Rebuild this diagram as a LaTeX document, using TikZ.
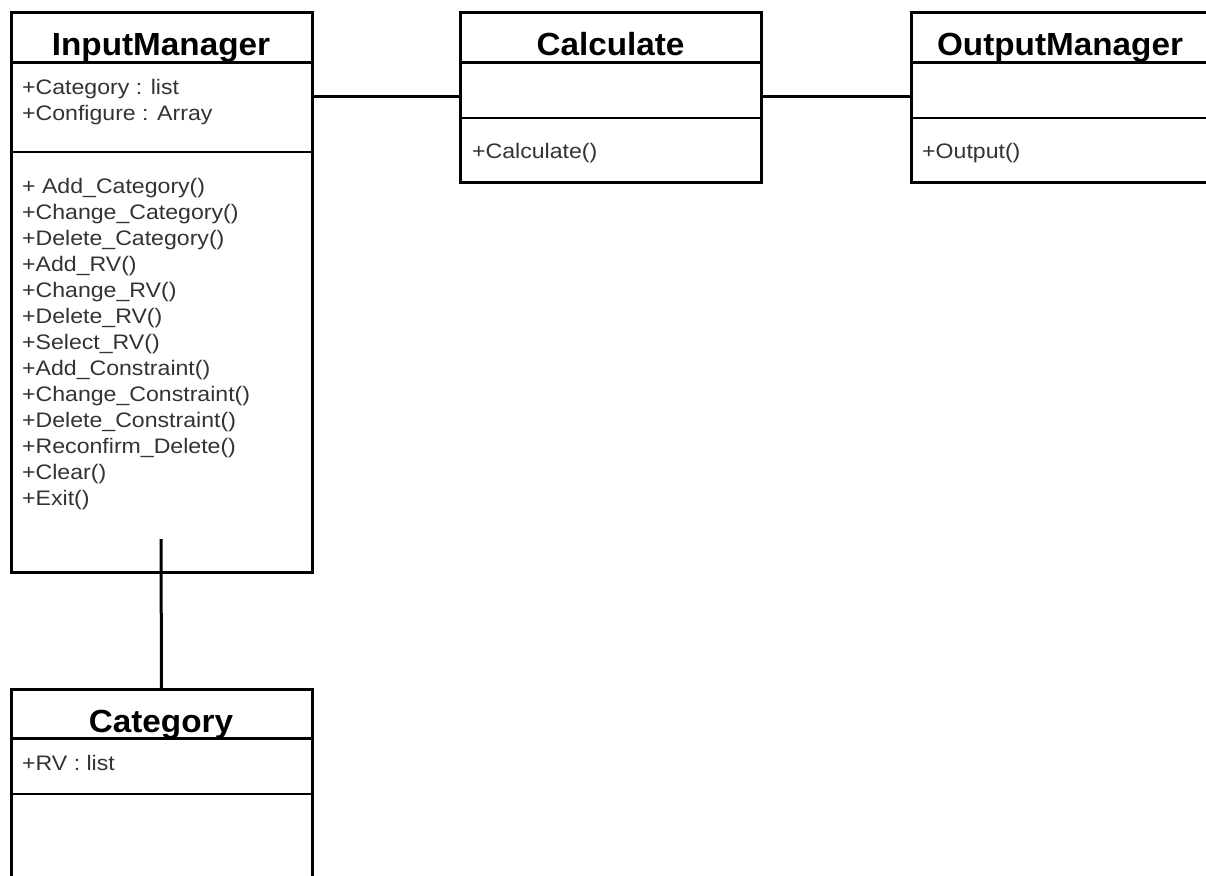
\documentclass[tikz,border=0pt]{standalone}
\usepackage{fontspec}
\newfontfamily\bodyf{Liberation Sans}[FakeStretch=1.1]
\newfontfamily\titlef{Liberation Sans}[FakeStretch=1.04]
\definecolor{membergray}{HTML}{333333}
\begin{document}
\begin{tikzpicture}[x=1pt,y=-1pt,
  classbox/.style={draw=black, line width=3pt, rectangle, anchor=north west, inner sep=0pt, outer sep=0pt},
  titletext/.style={anchor=base, inner sep=0pt, font=\titlef\bfseries\fontsize{32}{38}\selectfont, text=black},
  membertext/.style={anchor=base west, inner sep=0pt, font=\bodyf\fontsize{21}{26}\selectfont, text=membergray},
  headrule/.style={line width=3pt},
  seprule/.style={line width=1.8pt},
  link/.style={line width=3pt}]
\useasboundingbox (0,0) rectangle (1206,875);
\fill[white] (0,0) rectangle (1206,875);
\clip (0,0) rectangle (1206,875);

% InputManager
\node[classbox, minimum width=301pt, minimum height=559pt] (im) at (11,13) {};
\draw[headrule] (im.west |- 0,62) -- (im.east |- 0,62);
\draw[seprule] (im.west |- 0,152) -- (im.east |- 0,152);
\node[titletext] (imtitle) at (161,56) {InputManager};
\node[membertext] (imattr) at (22,94) {\begin{tabular}[t]{@{}l@{}}+Category : list\\+Configure : Array\end{tabular}};
\node[membertext] (imops) at (22,193) {\begin{tabular}[t]{@{}l@{}}%
+ Add\_Category()\\
+Change\_Category()\\
+Delete\_Category()\\
+Add\_RV()\\
+Change\_RV()\\
+Delete\_RV()\\
+Select\_RV()\\
+Add\_Constraint()\\
+Change\_Constraint()\\
+Delete\_Constraint()\\
+Reconfirm\_Delete()\\
+Clear()\\
+Exit()\end{tabular}};

% Calculate
\node[classbox, minimum width=301pt, minimum height=169pt] (calc) at (460,13) {};
\draw[headrule] (calc.west |- 0,62) -- (calc.east |- 0,62);
\draw[seprule] (calc.west |- 0,118) -- (calc.east |- 0,118);
\node[titletext] (calctitle) at (610.5,56) {Calculate};
\node[membertext] (calcops) at (472,158) {+Calculate()};

% OutputManager
\node[classbox, minimum width=300pt, minimum height=169pt] (out) at (911,13) {};
\draw[headrule] (out.west |- 0,62) -- (out.east |- 0,62);
\draw[seprule] (out.west |- 0,118) -- (out.east |- 0,118);
\node[titletext] (outtitle) at (1060,56) {OutputManager};
\node[membertext] (outops) at (922,158) {+Output()};

% Category
\node[classbox, minimum width=301pt, minimum height=230pt] (cat) at (11,689) {};
\draw[headrule] (cat.west |- 0,738) -- (cat.east |- 0,738);
\draw[seprule] (cat.west |- 0,794) -- (cat.east |- 0,794);
\node[titletext] (cattitle) at (161,732) {Category};
\node[membertext] (catattr) at (22,770) {+RV : list};

% connectors
\draw[link] (im.east |- 0,96) -- (calc.west |- 0,96);
\draw[link] (calc.east |- 0,96) -- (out.west |- 0,96);
\coordinate (imtail) at (161,539);
\draw[link] (imtail) -- (cat.north);
\end{tikzpicture}
\end{document}
